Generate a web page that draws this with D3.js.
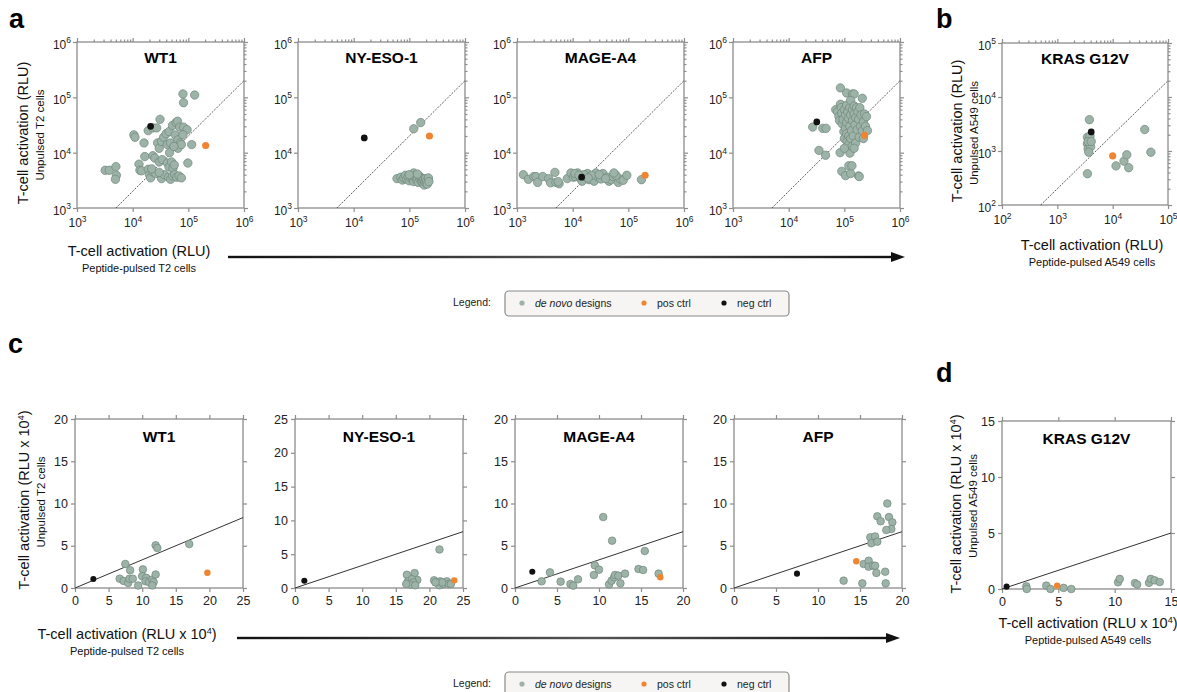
<!DOCTYPE html>
<html>
<head>
<meta charset="utf-8">
<script src="https://cdn.jsdelivr.net/npm/d3@7"></script>
<style>
body { margin: 0; background: #fff; }
svg { font-family: "Liberation Sans", Arial, sans-serif; }
</style>
</head>
<body>
<svg width="1177" height="692"></svg>
<script>
// ---- data: [peptide-pulsed, unpulsed] ----
const logWT1 = [[8.0e4,1.15e5],[8.2e4,8.0e4],[1.3e5,1.1e5],[3.2e3,4.8e3],[3.8e3,4.8e3],[5.0e3,5.6e3],[5.1e3,3.9e3],[4.9e3,3.3e3],[1.05e4,2.1e4],[1.1e4,1.9e4],[1.3e4,6.2e3],[1.35e4,4.8e3],[1.45e4,4.7e3],[1.6e4,1.5e4],[1.65e4,8.5e3],[1.9e4,2.5e4],[2.3e4,2.8e4],[2.7e4,2.8e4],[3.1e4,4.0e4],[2.3e4,8.8e3],[2.5e4,8.0e3],[1.9e4,5.0e3],[2.0e4,4.0e3],[2.1e4,3.5e3],[2.3e4,4.5e3],[2.6e4,4.2e3],[2.2e4,5.1e3],[2.8e4,1.5e4],[3.0e4,1.2e4],[3.3e4,1.6e4],[3.6e4,1.9e4],[3.0e4,6.8e3],[3.4e4,7.5e3],[3.3e4,3.4e3],[3.7e4,4.0e3],[3.0e4,4.4e3],[4.0e4,2.2e4],[4.5e4,2.4e4],[4.2e4,1.4e4],[4.8e4,1.5e4],[4.6e4,1.0e4],[4.2e4,6.5e3],[4.5e4,5.5e3],[5.0e4,6.8e3],[5.3e4,5.2e3],[5.6e4,6.0e3],[4.4e4,3.6e3],[4.8e4,3.3e3],[5.2e4,3.8e3],[5.7e4,4.0e3],[6.2e4,3.6e3],[6.8e4,3.8e3],[7.5e4,3.5e3],[5.2e4,3.1e4],[6.0e4,3.5e4],[6.4e4,3.7e4],[7.0e4,2.9e4],[8.2e4,2.9e4],[9.5e4,2.6e4],[5.8e4,2.1e4],[6.5e4,1.7e4],[7.2e4,1.5e4],[8.0e4,2.1e4],[6.5e4,1.2e4],[7.5e4,1.4e4],[1.15e5,1.4e4],[9.8e4,6.5e3],[5.5e4,1.3e4]];
const logNYESO = [[1.2e5,2.7e4],[1.6e5,3.5e4],[6.0e4,3.4e3],[7.0e4,3.6e3],[7.5e4,3.2e3],[8.0e4,3.5e3],[8.5e4,3.9e3],[9.0e4,3.3e3],[9.5e4,3.7e3],[1.0e5,3.1e3],[1.05e5,3.5e3],[1.1e5,3.9e3],[1.15e5,3.3e3],[1.2e5,4.3e3],[1.2e5,3.0e3],[1.25e5,3.6e3],[1.3e5,3.9e3],[1.35e5,3.2e3],[1.4e5,3.5e3],[1.45e5,2.9e3],[1.5e5,3.8e3],[1.55e5,3.3e3],[1.6e5,3.6e3],[1.65e5,3.0e3],[1.7e5,3.4e3],[1.75e5,2.8e3],[1.8e5,3.2e3],[1.85e5,2.6e3],[1.9e5,3.0e3],[1.95e5,3.4e3],[2.0e5,2.8e3],[2.05e5,3.1e3],[2.1e5,2.7e3],[2.2e5,3.5e3],[2.25e5,3.0e3],[1.0e5,4.0e3],[1.4e5,4.1e3]];
const logMAGE = [[1.3e3,4.0e3],[1.6e3,3.3e3],[2.0e3,3.7e3],[2.2e3,3.7e3],[2.35e3,2.9e3],[2.9e3,3.7e3],[3.7e3,3.4e3],[4.0e3,2.85e3],[4.8e3,4.4e3],[5.0e3,2.9e3],[5.7e3,2.75e3],[8.0e3,3.4e3],[9.3e3,4.3e3],[1.03e4,3.6e3],[1.12e4,3.7e3],[1.23e4,4.3e3],[1.38e4,3.4e3],[1.48e4,3.05e3],[1.71e4,3.7e3],[1.84e4,4.2e3],[1.97e4,3.25e3],[2.43e4,3.05e3],[2.62e4,4.3e3],[2.8e4,3.7e3],[3.2e4,3.35e3],[3.5e4,4.2e3],[4.2e4,3.6e3],[4.5e4,3.05e3],[4.9e4,3.25e3],[5.3e4,3.7e3],[6.6e4,2.9e3],[7.1e4,3.35e3],[8.1e4,3.17e3],[9.4e4,3.9e3],[1.72e5,3.25e3],[1.1e4,4.2e3],[1.6e4,4.0e3],[2.2e4,3.9e3],[3.0e4,4.0e3],[6.0e4,3.9e3],[1.3e4,3.9e3],[5.5e3,3.0e3],[3.9e4,3.4e3],[1.9e4,3.5e3],[5.5e4,4.3e3]];
const logAFP = [[2.7e4,2.9e4],[4.1e4,2.75e4],[4.7e4,2.75e4],[3.5e4,1.1e4],[4.6e4,9.0e3],[9.0e4,4.6e3],[1.05e5,3.85e3],[1.3e5,4.2e3],[1.2e5,5.8e3],[1.37e5,5.8e3],[1.8e5,3.8e3],[1.85e5,3.7e3],[8.4e4,1.0e4],[1.26e5,9.8e3],[8.5e4,1.48e5],[1.1e5,1.2e5],[1.4e5,1.15e5],[1.5e5,1.15e5],[2.1e5,9.6e4],[7.0e4,6.0e4],[7.5e4,5.5e4],[8.0e4,4.5e4],[8.2e4,3.8e4],[8.5e4,7.5e4],[8.8e4,6.5e4],[9.0e4,5.2e4],[9.2e4,3.3e4],[9.5e4,4.0e4],[9.8e4,2.4e4],[1.0e5,6.0e4],[1.0e5,1.8e4],[1.05e5,4.8e4],[1.05e5,2.8e4],[1.1e5,7.2e4],[1.1e5,3.5e4],[1.1e5,2.2e4],[1.12e5,1.6e4],[1.15e5,5.5e4],[1.18e5,4.2e4],[1.2e5,2.0e4],[1.2e5,1.4e4],[1.25e5,6.5e4],[1.25e5,3.0e4],[1.3e5,8.8e4],[1.3e5,4.8e4],[1.3e5,1.8e4],[1.35e5,2.5e4],[1.38e5,1.3e4],[1.4e5,6.0e4],[1.4e5,3.8e4],[1.45e5,2.0e4],[1.5e5,5.0e4],[1.5e5,7.0e4],[1.55e5,3.2e4],[1.6e5,4.3e4],[1.6e5,1.5e4],[1.65e5,6.5e4],[1.7e5,2.6e4],[1.75e5,5.5e4],[1.8e5,4.0e4],[1.85e5,1.9e4],[1.9e5,6.5e4],[1.95e5,3.0e4],[2.0e5,4.8e4],[2.1e5,2.5e4],[2.2e5,3.6e4],[2.3e5,5.0e4],[2.4e5,3.0e4],[2.5e5,4.5e4],[2.2e5,1.8e4],[2.6e5,2.5e4],[1.0e5,1.2e4],[1.5e5,1.2e4]];
const logKRAS = [[3.8e3,3.8e3],[3.5e3,1.8e3],[3.7e3,1.6e3],[3.9e3,1.9e3],[3.5e3,1.35e3],[3.8e3,1.3e3],[3.6e3,1.1e3],[4.0e3,1.2e3],[3.7e3,9.5e2],[3.6e3,1.5e3],[4.1e3,1.5e3],[3.5e3,3.8e2],[1.15e4,5.3e2],[1.6e4,6.5e2],[1.8e4,8.5e2],[1.95e4,4.9e2],[3.8e4,2.5e3],[4.9e4,9.5e2]];
const logPos = [[2.05e5,1.35e4],[2.3e5,2.0e4],[2.0e5,3.9e3],[2.3e5,2.05e4],[1.0e4,8.1e2]];
const logNeg = [[2.1e4,3.0e4],[1.55e4,1.85e4],[1.45e4,3.6e3],[3.2e4,3.6e4],[4.1e3,2.25e3]];

const linWT1 = [[7.49,2.84],[8.2,2.1],[6.65,1.1],[7.24,0.83],[7.9,0.6],[8.1,1.1],[8.6,1.1],[10.1,2.2],[10.0,1.4],[10.6,1.2],[10.5,0.8],[11.0,0.7],[11.5,1.0],[11.7,0.7],[11.5,0.3],[9.4,0.3],[12.0,1.6],[12.0,5.05],[12.25,4.73],[17.0,5.2]];
const linNYESO = [[16.65,1.96],[17.8,2.2],[18.2,1.2],[16.8,0.98],[17.4,1.3],[17.6,0.83],[17.15,0.5],[17.9,0.4],[16.55,0.6],[21.5,5.7],[20.7,1.13],[21.1,0.83],[21.6,0.98],[21.5,0.4],[22.1,0.6],[22.6,0.98],[22.9,0.6],[23.2,0.6],[21.9,0.83],[20.9,0.83]];
const linMAGE = [[3.17,0.79],[4.16,1.85],[5.43,0.75],[6.6,0.47],[6.93,0.28],[7.5,1.03],[9.39,1.54],[9.5,2.68],[10.0,2.17],[10.5,8.4],[11.56,5.6],[11.2,0.43],[11.5,0.87],[11.8,1.26],[11.9,1.54],[12.3,1.46],[12.55,0.55],[13.1,1.7],[14.7,2.25],[15.25,2.13],[15.45,4.38],[17.1,1.7]];
const linAFP = [[13.05,0.87],[15.28,0.55],[15.44,2.84],[16.03,3.23],[16.03,2.52],[16.55,2.64],[16.8,2.64],[16.95,1.78],[18.0,1.93],[18.06,0.55],[16.23,6.0],[16.8,6.1],[16.35,5.3],[17.06,5.48],[17.06,8.48],[17.46,7.9],[18.25,10.0],[18.45,8.4],[18.85,7.77],[18.73,6.98],[18.13,6.86]];
const linKRAS = [[2.16,0.24],[2.2,0.0],[3.93,0.3],[4.3,0.0],[5.47,0.1],[6.15,0.0],[10.3,0.6],[10.45,0.9],[11.8,0.53],[12.0,0.4],[13.05,0.55],[13.2,0.9],[13.55,0.77],[14.0,0.62]];
const linPos = [[19.7,1.8],[23.7,1.13],[17.3,1.26],[14.56,3.16],[4.9,0.3]];
const linNeg = [[2.73,1.07],[1.39,1.08],[2.06,1.93],[7.5,1.7],[0.41,0.21]];

const titles = ['WT1', 'NY-ESO-1', 'MAGE-A4', 'AFP', 'KRAS G12V'];
const legendItems = ['designs', 'pos ctrl', 'neg ctrl'];
const logRatio = 0.2;   // dotted reference line y = x / 5
const linRatio = 1 / 3; // solid reference line y = x / 3

const col = { design: '#9db3a7', designStroke: '#6f877b', pos: '#ef8530', neg: '#111', axis: '#8d8d8d' };

const svg = d3.select('svg');

function sup(sel, base, exp, size) {
    sel.append('tspan').text(base);
    sel.append('tspan').attr('dy', -5.5).attr('font-size', size).text(exp);
}

function frame(g, x, y) {
    const [x0, x1] = x.range();
    const [y1, y0] = y.range();
    g.append('rect')
        .attr('x', x0).attr('y', y0)
        .attr('width', x1 - x0).attr('height', y1 - y0)
        .attr('fill', 'none')
        .attr('stroke', col.axis)
        .attr('stroke-width', 1.3);
}

function styleAxis(a) {
    a.select('.domain').remove();
    a.selectAll('line').attr('stroke', col.axis).attr('stroke-width', 1.2);
    a.selectAll('text').attr('fill', '#222');
}

function dots(g, x, y, data, pos, neg, r) {
    g.selectAll('.d')
        .data(data)
        .enter()
        .append('circle')
            .attr('cx', d => x(d[0]))
            .attr('cy', d => y(d[1]))
            .attr('r', r)
            .attr('fill', col.design)
            .attr('stroke', col.designStroke)
            .attr('stroke-width', 0.7);
    g.append('circle')
        .attr('cx', x(pos[0])).attr('cy', y(pos[1]))
        .attr('r', r * 0.85).attr('fill', col.pos);
    g.append('circle')
        .attr('cx', x(neg[0])).attr('cy', y(neg[1]))
        .attr('r', r * 0.8).attr('fill', col.neg);
}

function logPanel(box, domain, data, pos, neg, title) {
    const g = svg.append('g');
    const x = d3.scaleLog().domain(domain).range([box.x, box.x + box.w]);
    const y = d3.scaleLog().domain(domain).range([box.y + box.h, box.y]);
    const lo = Math.log10(domain[0]), hi = Math.log10(domain[1]);
    const majors = d3.range(lo, hi + 1).map(e => Math.pow(10, e));
    const minors = [];
    d3.range(lo, hi).forEach(e => {
        for (let m = 2; m < 10; m++) minors.push(m * Math.pow(10, e));
    });

    frame(g, x, y);

    const bottom = g.append('g')
        .attr('transform', `translate(0,${box.y + box.h})`)
        .call(d3.axisBottom(x).tickValues(majors).tickSize(4).tickSizeOuter(0).tickPadding(4));
    const left = g.append('g')
        .attr('transform', `translate(${box.x},0)`)
        .call(d3.axisLeft(y).tickValues(majors).tickSize(4).tickSizeOuter(0).tickPadding(2));
    [bottom, left].forEach(a => {
        styleAxis(a);
        a.selectAll('text')
            .attr('font-size', 12)
            .text(null)
            .each(function(d) { sup(d3.select(this), '10', Math.round(Math.log10(d)), 8.5); });
    });
    left.selectAll('text').attr('dy', '0.5em');
    bottom.selectAll('text').attr('dy', '0.95em');

    // mirrored ticks with minor ticks on top and right
    [[d3.axisTop(x), `translate(0,${box.y})`], [d3.axisRight(y), `translate(${box.x + box.w},0)`]].forEach(([ax, tr]) => {
        const big = g.append('g').attr('transform', tr)
            .call(ax.tickValues(majors).tickSize(4).tickSizeOuter(0).tickFormat(''));
        styleAxis(big);
        const small = g.append('g').attr('transform', tr)
            .call(ax.tickValues(minors).tickSize(2.5).tickSizeOuter(0).tickFormat(''));
        styleAxis(small);
    });

    g.append('line')
        .attr('x1', x(domain[0] / logRatio)).attr('y1', y(domain[0]))
        .attr('x2', x(domain[1])).attr('y2', y(domain[1] * logRatio))
        .attr('stroke', '#333')
        .attr('stroke-width', 0.8)
        .attr('stroke-dasharray', '2,1.3');

    dots(g, x, y, data, pos, neg, 4.2);

    g.append('text')
        .attr('x', box.x + box.w / 2).attr('y', box.y + 21)
        .attr('text-anchor', 'middle')
        .attr('font-weight', 'bold')
        .attr('font-size', 15.5)
        .text(title);
}

function linPanel(box, xmax, ymax, data, pos, neg, title) {
    const g = svg.append('g');
    const x = d3.scaleLinear().domain([0, xmax]).range([box.x, box.x + box.w]);
    const y = d3.scaleLinear().domain([0, ymax]).range([box.y + box.h, box.y]);
    const xt = d3.range(0, xmax + 1, 5);
    const yt = d3.range(0, ymax + 1, 5);

    frame(g, x, y);

    const bottom = g.append('g')
        .attr('transform', `translate(0,${box.y + box.h})`)
        .call(d3.axisBottom(x).tickValues(xt).tickSize(4).tickSizeOuter(0).tickPadding(4));
    const left = g.append('g')
        .attr('transform', `translate(${box.x},0)`)
        .call(d3.axisLeft(y).tickValues(yt).tickSize(4).tickSizeOuter(0).tickPadding(3));
    [bottom, left].forEach(a => {
        styleAxis(a);
        a.selectAll('text').attr('font-size', 12.5);
    });
    const top = g.append('g').attr('transform', `translate(0,${box.y})`)
        .call(d3.axisTop(x).tickValues(xt).tickSize(4).tickSizeOuter(0).tickFormat(''));
    const right = g.append('g').attr('transform', `translate(${box.x + box.w},0)`)
        .call(d3.axisRight(y).tickValues(yt).tickSize(4).tickSizeOuter(0).tickFormat(''));
    styleAxis(top);
    styleAxis(right);

    g.append('line')
        .attr('x1', x(0)).attr('y1', y(0))
        .attr('x2', x(xmax)).attr('y2', y(xmax * linRatio))
        .attr('stroke', '#333')
        .attr('stroke-width', 1);

    dots(g, x, y, data, pos, neg, 3.8);

    g.append('text')
        .attr('x', box.x + box.w / 2).attr('y', box.y + 23)
        .attr('text-anchor', 'middle')
        .attr('font-weight', 'bold')
        .attr('font-size', 15.5)
        .text(title);
}

function yLabel(x, yc, main, sub, withExp) {
    const t = svg.append('text')
        .attr('transform', `translate(${x},${yc}) rotate(-90)`)
        .attr('text-anchor', 'middle')
        .attr('font-size', 14.5)
        .attr('fill', '#111');
    if (withExp) {
        t.append('tspan').text('T-cell activation (RLU x 10');
        t.append('tspan').attr('dy', -5).attr('font-size', 9).text('4');
        t.append('tspan').attr('dy', 5).text(')');
    } else {
        t.text(main);
    }
    svg.append('text')
        .attr('transform', `translate(${x + 16},${yc + 2}) rotate(-90)`)
        .attr('text-anchor', 'middle')
        .attr('font-size', 11.5)
        .attr('fill', '#111')
        .text(sub);
}

function xLabel(xc, y, main, sub, withExp) {
    const t = svg.append('text')
        .attr('x', xc).attr('y', y)
        .attr('text-anchor', 'middle')
        .attr('font-size', 14.5)
        .attr('fill', '#111');
    if (withExp) {
        t.append('tspan').text('T-cell activation (RLU x 10');
        t.append('tspan').attr('dy', -5).attr('font-size', 9).text('4');
        t.append('tspan').attr('dy', 5).text(')');
    } else {
        t.text(main);
    }
    svg.append('text')
        .attr('x', xc).attr('y', y + 16)
        .attr('text-anchor', 'middle')
        .attr('font-size', 11)
        .attr('fill', '#111')
        .text(sub);
}

function arrow(id, x1, x2, y) {
    const grad = svg.append('defs').append('linearGradient').attr('id', id);
    grad.append('stop').attr('offset', '0%').attr('stop-color', '#111');
    grad.append('stop').attr('offset', '55%').attr('stop-color', '#555');
    grad.append('stop').attr('offset', '100%').attr('stop-color', '#111');
    svg.append('rect')
        .attr('x', x1).attr('y', y - 1.2)
        .attr('width', x2 - x1 - 12).attr('height', 2.4)
        .attr('fill', `url(#${id})`);
    svg.append('path')
        .attr('d', `M${x2},${y} L${x2 - 14},${y - 5} L${x2 - 14},${y + 5} Z`)
        .attr('fill', '#111');
}

function legend(y) {
    svg.append('text')
        .attr('x', 453).attr('y', y + 4)
        .attr('font-size', 10.5).attr('fill', '#222')
        .text('Legend:');
    svg.append('rect')
        .attr('x', 505).attr('y', y - 11)
        .attr('width', 284).attr('height', 25)
        .attr('rx', 4)
        .attr('fill', '#f7f5f3')
        .attr('stroke', '#8a8a8a')
        .attr('stroke-width', 1.2);
    const itemX = [522, 644, 724];
    const fills = [col.design, col.pos, col.neg];
    legendItems.forEach((name, i) => {
        svg.append('circle')
            .attr('cx', itemX[i]).attr('cy', y + 1)
            .attr('r', 2.6).attr('fill', fills[i]);
        const t = svg.append('text')
            .attr('x', itemX[i] + 13).attr('y', y + 5)
            .attr('font-size', 10.5).attr('fill', '#222');
        if (i === 0) {
            t.append('tspan').attr('font-style', 'italic').text('de novo');
            t.append('tspan').text(' ' + name);
        } else {
            t.text(name);
        }
    });
}

function panelLetter(letter, x, y) {
    svg.append('text')
        .attr('x', x).attr('y', y)
        .attr('font-size', 27)
        .attr('font-weight', 'bold')
        .text(letter);
}

// ---- panel a ----
const logLefts = [77, 298, 517, 733];
const logSets = [logWT1, logNYESO, logMAGE, logAFP];
logSets.forEach((data, i) => {
    logPanel({ x: logLefts[i], y: 42, w: 167, h: 166 }, [1e3, 1e6], data, logPos[i], logNeg[i], titles[i]);
});
// ---- panel b ----
logPanel({ x: 1002, y: 43, w: 166, h: 162 }, [1e2, 1e5], logKRAS, logPos[4], logNeg[4], titles[4]);

// ---- panel c ----
const linLefts = [75, 295, 515, 734];
const linSets = [linWT1, linNYESO, linMAGE, linAFP];
const linXmax = [25, 25, 20, 20];
const linYmax = [20, 25, 20, 20];
linSets.forEach((data, i) => {
    linPanel({ x: linLefts[i], y: 419, w: 168, h: 169 }, linXmax[i], linYmax[i], data, linPos[i], linNeg[i], titles[i]);
});
// ---- panel d ----
linPanel({ x: 1002, y: 421, w: 169, h: 168 }, 15, 15, linKRAS, linPos[4], linNeg[4], titles[4]);

// labels
yLabel(28, 133, 'T-cell activation (RLU)', 'Unpulsed T2 cells', false);
xLabel(139, 256, 'T-cell activation (RLU)', 'Peptide-pulsed T2 cells', false);
yLabel(962, 131, 'T-cell activation (RLU)', 'Unpulsed A549 cells', false);
xLabel(1092, 250, 'T-cell activation (RLU)', 'Peptide-pulsed A549 cells', false);
yLabel(29, 500, '', 'Unpulsed T2 cells', true);
xLabel(127, 639, '', 'Peptide-pulsed T2 cells', true);
yLabel(961, 504, '', 'Unpulsed A549 cells', true);
xLabel(1088, 628, '', 'Peptide-pulsed A549 cells', true);

arrow('ga', 228, 905, 257);
arrow('gc', 237, 900, 638);

legend(302);
legend(683);

panelLetter('a', 9, 28);
panelLetter('b', 936, 28);
panelLetter('c', 8, 353);
panelLetter('d', 936, 382);
</script>
</body>
</html>
